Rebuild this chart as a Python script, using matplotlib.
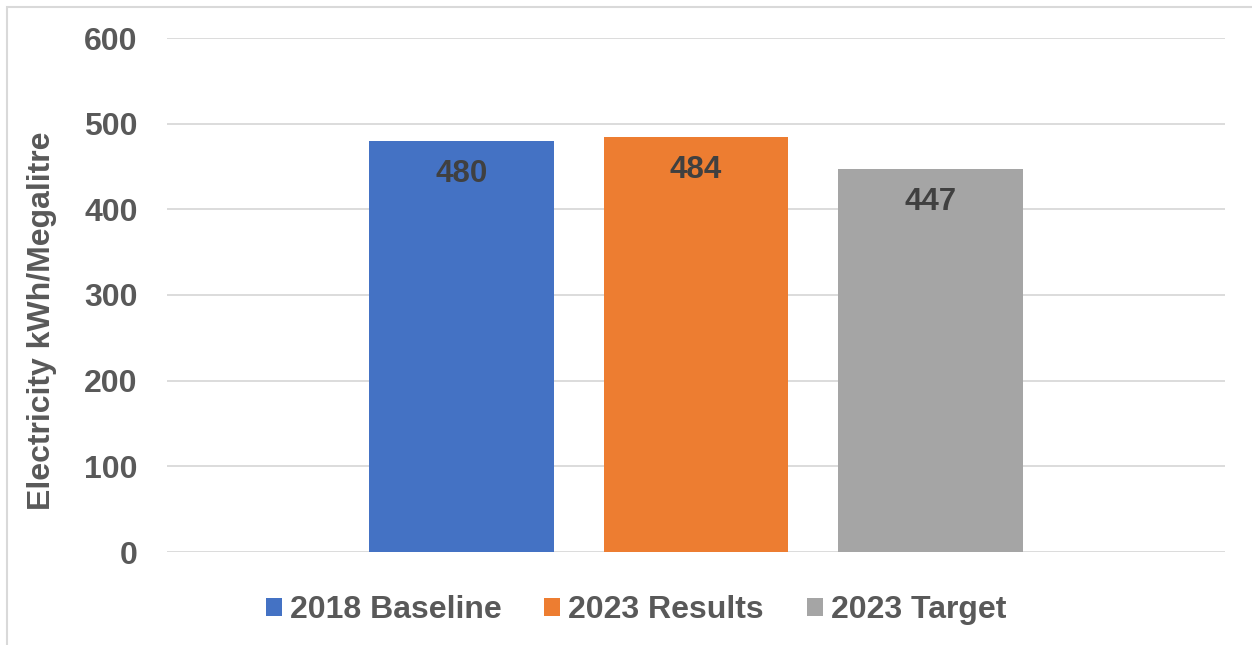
import matplotlib.pyplot as plt
from matplotlib.patches import Rectangle

plt.rcParams['font.family'] = ['Liberation Sans', 'DejaVu Sans']
plt.rcParams['font.weight'] = 'bold'

series = ['2018 Baseline', '2023 Results', '2023 Target']
values = [480, 484, 447]
colors = ['#4472c4', '#ed7d31', '#a5a5a5']
yticks = [0, 100, 200, 300, 400, 500, 600]

fig = plt.figure(figsize=(12.52, 6.45), dpi=100)
# outer chart frame
fig.patches.append(Rectangle((7 / 1252, -0.1), 1.2, 1 - 7 / 645 + 0.1, transform=fig.transFigure,
                             fill=False, edgecolor='#d9d9d9', lw=1.5))

ax = fig.add_axes([167 / 1252, 1 - 552 / 645, (1225 - 167) / 1252, (552 - 38) / 645])

xpos = [-1, 0, 1]
bars = ax.bar(xpos, values, width=0.79, color=colors, label=series, zorder=3)

for b, v in zip(bars, values):
    ax.annotate(str(v), (b.get_x() + b.get_width() / 2, v), xytext=(0, -33),
                textcoords='offset pixels', ha='center', va='center',
                fontsize=22.5, fontweight='bold', color='#404040', zorder=4)

ax.set_xlim(-2.26, 2.26)
ax.set_ylim(0, 600)
ax.set_yticks(yticks)
ax.set_xticks([])
ax.grid(axis='y', color='#d9d9d9', lw=1.3, zorder=0)
for s in ax.spines.values():
    s.set_visible(False)
ax.tick_params(axis='y', length=0, pad=21, labelsize=23, labelcolor='#595959')

fig.text(42 / 1252, 1 - 321 / 645, 'Electricity kWh/Megalitre', rotation=90,
         ha='center', va='center', fontsize=23, fontweight='bold', color='#595959')

fig.legend(loc='center', bbox_to_anchor=(636 / 1252, 1 - 610 / 645), ncol=3, frameon=False,
           fontsize=23, labelcolor='#595959', handlelength=0.5, handleheight=0.5,
           handletextpad=0.25, columnspacing=1.35)

fig.savefig('out.png', dpi=100, facecolor='white')
